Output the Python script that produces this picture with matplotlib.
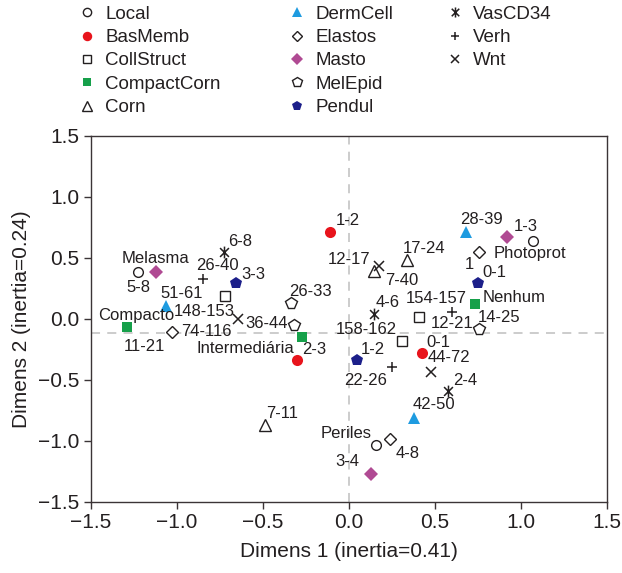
import matplotlib
matplotlib.use("Agg")
import matplotlib.pyplot as plt
from matplotlib.path import Path

plt.rcParams['font.family'] = ['Liberation Sans', 'DejaVu Sans']

# category coordinates (Dimens 1, Dimens 2)
series = ['Local', 'BasMemb', 'CollStruct', 'CompactCorn', 'Corn',
          'DermCell', 'Elastos', 'Masto', 'MelEpid', 'Pendul',
          'VasCD34', 'Verh', 'Wnt']

dim1 = {
    'Local':       [-1.223, 1.070, 0.159],
    'BasMemb':     [-0.110, -0.301, 0.428],
    'CollStruct':  [-0.719, 0.408, 0.308],
    'CompactCorn': [-1.291, -0.270, 0.736],
    'Corn':        [0.337, 0.147, -0.485],
    'DermCell':    [0.682, -1.062, 0.381],
    'Elastos':     [0.759, -1.029, 0.240],
    'Masto':       [-1.120, 0.919, 0.130],
    'MelEpid':     [-0.337, -0.318, 0.758],
    'Pendul':      [-0.655, 0.752, 0.047],
    'VasCD34':     [-0.725, 0.147, 0.579],
    'Verh':        [-0.845, 0.250, 0.601],
    'Wnt':         [0.178, -0.645, 0.478],
}
dim2 = {
    'Local':       [0.382, 0.639, -1.034],
    'BasMemb':     [0.715, -0.337, -0.282],
    'CollStruct':  [0.188, 0.013, -0.181],
    'CompactCorn': [-0.064, -0.146, 0.122],
    'Corn':        [0.483, 0.395, -0.870],
    'DermCell':    [0.715, 0.108, -0.815],
    'Elastos':     [0.546, -0.105, -0.988],
    'Masto':       [0.387, 0.674, -1.272],
    'MelEpid':     [0.128, -0.050, -0.085],
    'Pendul':      [0.292, 0.292, -0.337],
    'VasCD34':     [0.546, 0.040, -0.589],
    'Verh':        [0.325, -0.392, 0.054],
    'Wnt':         [0.431, -0.003, -0.433],
}
categories = {
    'Local':       ['Melasma', 'Photoprot', 'Periles'],
    'BasMemb':     ['1-2', '2-3', '0-1'],
    'CollStruct':  ['148-153', '154-157', '158-162'],
    'CompactCorn': ['Compacto', 'Intermediária', 'Nenhum'],
    'Corn':        ['17-24', '7-40', '7-11'],
    'DermCell':    ['28-39', '51-61', '42-50'],
    'Elastos':     ['1', '74-116', '4-8'],
    'Masto':       ['5-8', '1-3', '3-4'],
    'MelEpid':     ['26-33', '36-44', '14-25'],
    'Pendul':      ['3-3', '0-1', '1-2'],
    'VasCD34':     ['6-8', '4-6', '2-4'],
    'Verh':        ['26-40', '22-26', '12-21'],
    'Wnt':         ['12-17', '', '44-72'],
}
extra_labels = [('11-21', 'CompactCorn', 0)]

# label placement (offset of text centre from its point, in pixels)
label_offsets = {
    'Local':       [(17, 14), (-3, -13), (-30, 11)],
    'BasMemb':     [(18, 11), (17.5, 10), (16, 11)],
    'CollStruct':  [(-21, -15.5), (17, 19), (-35, 11.5)],
    'CompactCorn': [(10, 11.5), (-57, -11.5), (38.5, 6.5)],
    'Corn':        [(17, 11.5), (27.5, -9.5), (16.5, 11.5)],
    'DermCell':    [(15.5, 12.5), (16, 12.5), (19.5, 13.5)],
    'Elastos':     [(-10, -12.5), (35, 0), (17.5, -14)],
    'Masto':       [(-17.5, -15.5), (18.5, 10.5), (-23.5, 12.5)],
    'MelEpid':     [(20, 11.5), (-27, 1.5), (19.5, 12)],
    'Pendul':      [(17.5, 8.5), (16, 11), (16, 10.5)],
    'VasCD34':     [(16, 10.5), (14, 11.5), (17, 10.5)],
    'Verh':        [(14.5, 13.5), (-26.5, -13.5), (0, -11.5)],
    'Wnt':         [(-30, 6.5), (0, 0), (18.5, 14)],
}
extra_offsets = [(18, -20)]

# x with a vertical bar through it, as in the original plot
vas_marker = Path([(0, -1), (0, 1), (-0.75, -0.75), (0.75, 0.75), (-0.75, 0.75), (0.75, -0.75)],
                  [Path.MOVETO, Path.LINETO, Path.MOVETO, Path.LINETO, Path.MOVETO, Path.LINETO])

ink = '#231f20'
styles = {
    'Local':       dict(marker='o', ms=7, mfc='white', mec=ink, mew=1.0),
    'BasMemb':     dict(marker='o', ms=8, mfc='#e8141c', mec='#e8141c', mew=0),
    'CollStruct':  dict(marker='s', ms=6.5, mfc='white', mec=ink, mew=1.0),
    'CompactCorn': dict(marker='s', ms=6.5, mfc='#16a04a', mec='#16a04a', mew=0),
    'Corn':        dict(marker='^', ms=8, mfc='white', mec=ink, mew=1.0),
    'DermCell':    dict(marker='^', ms=8.5, mfc='#1e9be0', mec='#1e9be0', mew=0),
    'Elastos':     dict(marker='D', ms=6, mfc='white', mec=ink, mew=1.0),
    'Masto':       dict(marker='D', ms=7, mfc='#b04a93', mec='#b04a93', mew=0),
    'MelEpid':     dict(marker='p', ms=8.5, mfc='white', mec=ink, mew=1.0),
    'Pendul':      dict(marker='p', ms=9, mfc='#1c1f8a', mec='#1c1f8a', mew=0),
    'VasCD34':     dict(marker=vas_marker, ms=8.5, mec=ink, mew=1.1),
    'Verh':        dict(marker='+', ms=7.5, mec=ink, mew=1.1),
    'Wnt':         dict(marker='x', ms=6.5, mec=ink, mew=1.1),
}

fig = plt.figure(figsize=(6.22, 5.73), dpi=100)
ax = fig.add_axes([0.1458, 0.1244, 0.8296, 0.6383])

ax.axhline(-0.113, color='#c8c8c8', lw=1.3, ls=(0, (5, 4)), zorder=1)
ax.axvline(0.0, color='#c8c8c8', lw=1.3, ls=(0, (5, 4)), zorder=1)

handles = []
for name in series:
    h, = ax.plot(dim1[name], dim2[name], ls='none', label=name, zorder=3, **styles[name])
    handles.append(h)
    for x, y, lab, off in zip(dim1[name], dim2[name], categories[name], label_offsets[name]):
        if lab:
            ax.annotate(lab, (x, y), xytext=off, textcoords='offset pixels',
                        ha='center', va='center', fontsize=12, color=ink, zorder=4)

for (lab, name, i), off in zip(extra_labels, extra_offsets):
    ax.annotate(lab, (dim1[name][i], dim2[name][i]), xytext=off, textcoords='offset pixels',
                ha='center', va='center', fontsize=12, color=ink, zorder=4)

ax.set_xlim(-1.5, 1.5)
ax.set_ylim(-1.5, 1.5)
ax.set_xticks([-1.5, -1.0, -0.5, 0.0, 0.5, 1.0, 1.5])
ax.set_yticks([-1.5, -1.0, -0.5, 0.0, 0.5, 1.0, 1.5])
ax.tick_params(direction='out', length=5, width=1, color='#3b3436',
               labelsize=15, labelcolor=ink, pad=3)
for sp in ax.spines.values():
    sp.set_color('#3b3436')
    sp.set_linewidth(1.0)
ax.set_xlabel('Dimens 1 (inertia=0.41)', fontsize=15, color=ink, labelpad=7)
ax.set_ylabel('Dimens 2 (inertia=0.24)', fontsize=15, color=ink, labelpad=5)

# legend in three columns, each placed on its own
cols = [handles[0:5], handles[5:10], handles[10:13]]
col_x = [0.1254, 0.463, 0.717]
for hs, cx in zip(cols, col_x):
    leg = fig.legend(handles=hs, loc='upper left', bbox_to_anchor=(cx, 0.990),
                     frameon=False, fontsize=13.5, handlelength=1.0, handletextpad=0.45,
                     labelspacing=0.33, borderpad=0, borderaxespad=0, markerscale=0.85)
    for t in leg.get_texts():
        t.set_color(ink)

fig.savefig('out.png', dpi=100)
